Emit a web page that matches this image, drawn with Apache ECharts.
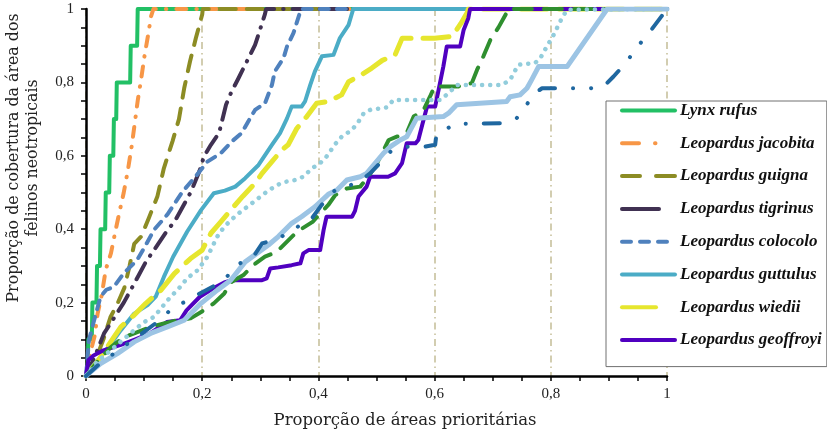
<!DOCTYPE html>
<html>
<head>
<meta charset="utf-8">
<script src="https://cdn.jsdelivr.net/npm/echarts@6/dist/echarts.min.js"></script>
<style>
  html, body { margin: 0; padding: 0; background: #fff; }
  #chart { width: 827px; height: 434px; }
</style>
</head>
<body>
<div id="chart"></div>
<script>
// eixos
const xTicks = [0, 0.2, 0.4, 0.6, 0.8, 1];
const yTicks = [0, 0.2, 0.4, 0.6, 0.8, 1];

// curvas [proporção de áreas, proporção de cobertura]
const lynxRufus = [[0,0],[0.003,0.03],[0.004,0.1],[0.01,0.1],[0.011,0.2],[0.018,0.2],[0.019,0.3],[0.024,0.3],[0.025,0.4],[0.033,0.4],[0.034,0.5],[0.04,0.5],[0.041,0.6],[0.047,0.6],[0.048,0.7],[0.052,0.7],[0.053,0.8],[0.076,0.8],[0.077,0.9],[0.088,0.9],[0.089,1],[1,1]];
const jacobita = [[0,0],[0.007,0.06],[0.015,0.11],[0.02,0.17],[0.027,0.22],[0.034,0.29],[0.043,0.335],[0.05,0.39],[0.058,0.45],[0.065,0.5],[0.072,0.56],[0.079,0.63],[0.084,0.69],[0.089,0.75],[0.095,0.81],[0.101,0.875],[0.107,0.93],[0.112,0.98],[0.116,1],[1,1]];
const guigna = [[0,0],[0.018,0.05],[0.03,0.1],[0.042,0.16],[0.055,0.2],[0.066,0.24],[0.075,0.3],[0.083,0.36],[0.095,0.38],[0.108,0.43],[0.123,0.49],[0.134,0.566],[0.149,0.64],[0.16,0.7],[0.169,0.784],[0.179,0.857],[0.189,0.92],[0.2,0.985],[0.201,1],[1,1]];
const tigrinus = [[0,0],[0.017,0.06],[0.031,0.116],[0.045,0.15],[0.065,0.2],[0.08,0.243],[0.103,0.311],[0.117,0.343],[0.137,0.39],[0.154,0.425],[0.18,0.5],[0.195,0.557],[0.203,0.598],[0.215,0.63],[0.229,0.662],[0.241,0.739],[0.25,0.773],[0.262,0.81],[0.274,0.848],[0.291,0.902],[0.3,0.946],[0.308,0.986],[0.31,1],[1,1]];
const colocolo = [[0,0],[0.005,0.097],[0.014,0.152],[0.025,0.216],[0.035,0.235],[0.048,0.243],[0.065,0.28],[0.088,0.316],[0.103,0.357],[0.117,0.398],[0.14,0.44],[0.166,0.502],[0.186,0.539],[0.209,0.584],[0.232,0.607],[0.251,0.639],[0.268,0.662],[0.279,0.693],[0.291,0.725],[0.308,0.743],[0.32,0.793],[0.325,0.83],[0.34,0.866],[0.346,0.898],[0.357,0.934],[0.367,0.984],[0.37,1],[1,1]];
const guttulus = [[0,0],[0.008,0.02],[0.025,0.052],[0.043,0.088],[0.06,0.125],[0.083,0.17],[0.106,0.193],[0.12,0.216],[0.134,0.27],[0.15,0.325],[0.174,0.393],[0.198,0.452],[0.22,0.498],[0.239,0.505],[0.257,0.516],[0.274,0.539],[0.297,0.575],[0.32,0.63],[0.334,0.662],[0.346,0.702],[0.354,0.734],[0.371,0.734],[0.377,0.748],[0.386,0.793],[0.394,0.83],[0.406,0.871],[0.426,0.875],[0.437,0.921],[0.452,0.957],[0.46,1],[1,1]];
const wiedii = [[0,0],[0.02,0.04],[0.035,0.075],[0.048,0.106],[0.06,0.134],[0.083,0.166],[0.103,0.198],[0.129,0.234],[0.152,0.279],[0.18,0.32],[0.2,0.343],[0.215,0.389],[0.232,0.42],[0.249,0.452],[0.27,0.49],[0.291,0.525],[0.303,0.552],[0.32,0.584],[0.337,0.616],[0.348,0.63],[0.363,0.675],[0.38,0.707],[0.397,0.743],[0.417,0.748],[0.44,0.766],[0.452,0.802],[0.469,0.816],[0.492,0.839],[0.51,0.86],[0.532,0.875],[0.544,0.92],[0.6,0.92],[0.63,0.925],[0.645,0.96],[0.656,0.99],[0.658,1],[1,1]];
const geoffroyi = [[0,0],[0.004,0.043],[0.013,0.056],[0.03,0.07],[0.06,0.085],[0.085,0.1],[0.11,0.116],[0.139,0.147],[0.162,0.152],[0.173,0.179],[0.196,0.216],[0.219,0.239],[0.238,0.255],[0.251,0.261],[0.303,0.261],[0.311,0.266],[0.317,0.293],[0.331,0.296],[0.354,0.302],[0.369,0.307],[0.374,0.334],[0.383,0.343],[0.403,0.343],[0.409,0.398],[0.414,0.434],[0.458,0.434],[0.463,0.45],[0.469,0.489],[0.483,0.516],[0.489,0.543],[0.52,0.543],[0.532,0.552],[0.544,0.58],[0.552,0.634],[0.567,0.634],[0.572,0.643],[0.581,0.698],[0.587,0.734],[0.601,0.734],[0.615,0.843],[0.621,0.898],[0.644,0.898],[0.65,0.943],[0.658,0.975],[0.661,1],[1,1]];
const serie9 = [[0,0],[0.02,0.04],[0.043,0.079],[0.065,0.106],[0.083,0.116],[0.111,0.134],[0.134,0.143],[0.157,0.152],[0.18,0.157],[0.203,0.179],[0.22,0.198],[0.238,0.225],[0.251,0.257],[0.271,0.275],[0.288,0.302],[0.308,0.325],[0.328,0.338],[0.346,0.366],[0.363,0.393],[0.39,0.42],[0.417,0.466],[0.429,0.493],[0.449,0.511],[0.472,0.516],[0.486,0.543],[0.501,0.58],[0.521,0.643],[0.535,0.652],[0.552,0.662],[0.564,0.707],[0.581,0.725],[0.592,0.761],[0.6,0.789],[0.641,0.789],[0.664,0.798],[0.673,0.834],[0.684,0.871],[0.696,0.916],[0.71,0.95],[0.724,0.99],[0.726,1],[1,1]];
const serie10 = [[0,0],[0.02,0.04],[0.05,0.08],[0.083,0.125],[0.1,0.147],[0.117,0.161],[0.131,0.188],[0.143,0.211],[0.16,0.239],[0.174,0.266],[0.192,0.288],[0.209,0.325],[0.226,0.38],[0.238,0.407],[0.26,0.44],[0.285,0.47],[0.311,0.502],[0.328,0.52],[0.343,0.529],[0.36,0.534],[0.374,0.543],[0.389,0.566],[0.403,0.58],[0.414,0.598],[0.429,0.632],[0.44,0.652],[0.458,0.671],[0.469,0.693],[0.478,0.716],[0.489,0.725],[0.518,0.732],[0.529,0.752],[0.61,0.752],[0.627,0.775],[0.638,0.793],[0.716,0.793],[0.73,0.807],[0.744,0.848],[0.773,0.853],[0.782,0.866],[0.79,0.889],[0.805,0.93],[0.819,0.975],[0.828,0.998],[0.83,1],[1,1]];
const serie11 = [[0,0],[0.008,0.011],[0.025,0.034],[0.054,0.061],[0.083,0.093],[0.111,0.116],[0.14,0.134],[0.169,0.152],[0.198,0.198],[0.226,0.234],[0.249,0.261],[0.274,0.311],[0.314,0.357],[0.331,0.38],[0.354,0.416],[0.371,0.434],[0.394,0.461],[0.417,0.495],[0.432,0.507],[0.449,0.534],[0.472,0.543],[0.483,0.552],[0.512,0.607],[0.524,0.625],[0.541,0.643],[0.552,0.652],[0.569,0.702],[0.615,0.707],[0.624,0.716],[0.638,0.739],[0.724,0.748],[0.73,0.761],[0.747,0.766],[0.759,0.784],[0.767,0.807],[0.779,0.843],[0.828,0.843],[0.897,1],[1,1]];
const serie12 = [[0,0],[0.024,0.034],[0.06,0.075],[0.1,0.12],[0.131,0.157],[0.15,0.188],[0.175,0.205],[0.196,0.225],[0.22,0.245],[0.242,0.27],[0.265,0.307],[0.288,0.325],[0.303,0.361],[0.331,0.375],[0.36,0.4],[0.377,0.425],[0.389,0.43],[0.405,0.465],[0.429,0.507],[0.434,0.511],[0.466,0.525],[0.489,0.552],[0.524,0.611],[0.552,0.625],[0.584,0.625],[0.601,0.63],[0.603,0.657],[0.615,0.666],[0.627,0.68],[0.635,0.687],[0.713,0.689],[0.741,0.702],[0.773,0.771],[0.785,0.784],[0.868,0.784],[0.891,0.789],[0.908,0.816],[0.93,0.855],[0.948,0.895],[0.971,0.939],[1,1]];

const legendNames = ['Lynx rufus', 'Leopardus jacobita', 'Leopardus guigna', 'Leopardus tigrinus',
  'Leopardus colocolo', 'Leopardus guttulus', 'Leopardus wiedii', 'Leopardus geoffroyi'];

function fmt(v) {
  return String(v).replace('.', ',');
}

function line(name, data, color, width, type) {
  return {
    name: name,
    type: 'line',
    data: data,
    symbol: 'none',
    showSymbol: false,
    silent: true,
    animation: false,
    lineStyle: { color: color, width: width, type: type || 'solid', cap: 'round', join: 'round' },
    itemStyle: { color: color }
  };
}

let chart = echarts.init(document.getElementById('chart'));
let option = {
  backgroundColor: '#fff',
  grid: { left: 86, right: 160, top: 9, bottom: 58 },
  xAxis: {
    type: 'value', min: 0, max: 1, interval: 0.2,
    axisLine: { show: true, lineStyle: { color: '#000', width: 2.5 } },
    axisTick: { show: true, length: 5, lineStyle: { color: '#000', width: 1.5 } },
    minorTick: { show: true, splitNumber: 4, length: 5, lineStyle: { color: '#000', width: 1.5 } },
    axisLabel: { formatter: fmt, margin: 11, fontFamily: 'Liberation Serif', fontSize: 15, color: '#222' },
    splitLine: { show: true, lineStyle: { color: '#c4bd97', width: 1.5, type: [7, 4, 1.5, 4] } }
  },
  yAxis: {
    type: 'value', min: 0, max: 1, interval: 0.2,
    axisLine: { show: true, lineStyle: { color: '#000', width: 2.5 } },
    axisTick: { show: true, length: 5, lineStyle: { color: '#000', width: 1.5 } },
    minorTick: { show: true, splitNumber: 4, length: 5, lineStyle: { color: '#000', width: 1.5 } },
    axisLabel: { formatter: fmt, margin: 12, fontFamily: 'Liberation Serif', fontSize: 15, color: '#222' },
    splitLine: { show: false }
  },
  legend: {
    orient: 'vertical',
    left: 606, top: 101,
    padding: [1, 5, 18, 14],
    itemWidth: 53, itemHeight: 14, itemGap: 15.8,
    borderColor: '#707070', borderWidth: 1,
    backgroundColor: '#fff',
    selectedMode: false,
    itemStyle: { opacity: 0 },
    textStyle: { fontFamily: 'Liberation Serif', fontStyle: 'italic', fontWeight: 'bold', fontSize: 17, lineHeight: 16, color: '#111' },
    data: [
      { name: 'Lynx rufus', lineStyle: { width: 4, type: 'solid' } },
      { name: 'Leopardus jacobita', lineStyle: { width: 4, type: [17, 16, 0.5, 40] } },
      { name: 'Leopardus guigna', lineStyle: { width: 4, type: [18, 16, 40, 0] } },
      { name: 'Leopardus tigrinus', lineStyle: { width: 4, type: [37, 40] } },
      { name: 'Leopardus colocolo', lineStyle: { width: 4, type: [9, 9] } },
      { name: 'Leopardus guttulus', lineStyle: { width: 4, type: 'solid' } },
      { name: 'Leopardus wiedii', lineStyle: { width: 4, type: [34, 40] } },
      { name: 'Leopardus geoffroyi', lineStyle: { width: 4, type: 'solid' } }
    ]
  },
  graphic: [
    {
      type: 'text', x: 405, y: 421,
      style: { text: 'Proporção de áreas prioritárias', fontFamily: 'DejaVu Serif', fontSize: 16.5,
        fill: '#222', textAlign: 'center', textVerticalAlign: 'middle' }
    },
    {
      type: 'text', x: 23, y: 158, rotation: Math.PI / 2,
      style: { text: 'Proporção de cobertura da área dos\nfelinos neotropicais', fontFamily: 'DejaVu Serif',
        fontSize: 15.8, lineHeight: 19, fill: '#222', textAlign: 'center', textVerticalAlign: 'middle' }
    }
  ],
  series: [
    line('Lynx rufus', lynxRufus, '#22c065', 4),
    line('Leopardus jacobita', jacobita, '#f79646', 4, [10, 10, 0.5, 10]),
    line('Leopardus guigna', guigna, '#8c8c24', 4, [16, 11]),
    line('Leopardus tigrinus', tigrinus, '#403152', 4, [18, 9, 0.5, 9]),
    line('Leopardus colocolo', colocolo, '#4f81bd', 4, [9, 8]),
    line('Leopardus guttulus', guttulus, '#4bacc6', 4),
    line('Leopardus wiedii', wiedii, '#e6e62e', 5, [26, 12]),
    line('Leopardus geoffroyi', geoffroyi, '#5000c0', 4),
    line('Série 9', serie9, '#2f8f2f', 4, [18, 12]),
    line('Série 10', serie10, '#92cddc', 4.5, [0.1, 8]),
    line('Série 11', serie11, '#9cc4e4', 5),
    line('Série 12', serie12, '#1f67a0', 4, [16, 18, 0.1, 18, 0.1, 18])
  ]
};
option && chart.setOption(option);
</script>
</body>
</html>
